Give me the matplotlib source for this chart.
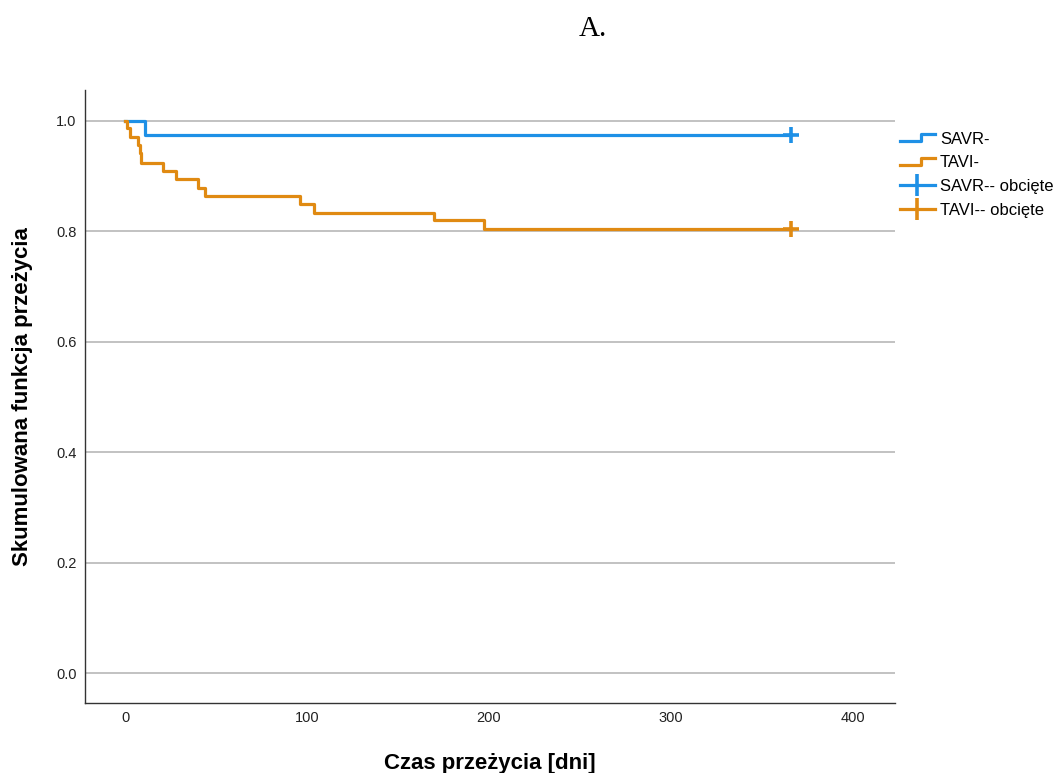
import matplotlib
matplotlib.use('Agg')
import matplotlib.pyplot as plt
from matplotlib.lines import Line2D
from matplotlib.legend_handler import HandlerLine2D

# Kaplan-Meier survival estimates
savr_days = [0, 11, 366]
savr_surv = [1.0, 0.975, 0.975]

tavi_days = [0, 1, 3, 7, 8, 9, 21, 28, 40, 44, 96, 104, 170, 197, 366]
tavi_surv = [1.0, 0.987, 0.971, 0.957, 0.942, 0.924, 0.909, 0.895, 0.879,
             0.864, 0.850, 0.834, 0.820, 0.804, 0.804]

savr_cens_day = [366]
savr_cens_surv = [0.975]
tavi_cens_day = [366]
tavi_cens_surv = [0.804]

xticks = [0, 100, 200, 300, 400]
yticks = [0.0, 0.2, 0.4, 0.6, 0.8, 1.0]
legend_labels = ['SAVR-', 'TAVI-', 'SAVR-- obcięte', 'TAVI-- obcięte']

blue = '#1E90E6'
orange = '#E08A12'


class StepHandler(HandlerLine2D):
    # draws the little step icon used by SPSS in the legend
    def create_artists(self, legend, orig_handle, xdescent, ydescent,
                       width, height, fontsize, trans):
        w = width
        h = height
        xs = [0, w * 0.6, w * 0.6, w]
        ys = [h * 0.2, h * 0.2, h * 0.8, h * 0.8]
        ln = Line2D([x - xdescent for x in xs], [y - ydescent for y in ys],
                    color=orig_handle.get_color(),
                    linewidth=orig_handle.get_linewidth())
        ln.set_transform(trans)
        return [ln]


plt.rcParams['font.family'] = ['Liberation Sans', 'DejaVu Sans']

fig = plt.figure(figsize=(10.57, 7.73), dpi=100)
ax = fig.add_axes([0.0804, 0.0906, 0.7663, 0.793])

ax.step(savr_days, savr_surv, where='post', color=blue, linewidth=2.3, zorder=3)
ax.step(tavi_days, tavi_surv, where='post', color=orange, linewidth=2.3, zorder=3)
ax.plot(savr_cens_day, savr_cens_surv, linestyle='none', marker='+',
        markersize=11, markeredgewidth=2.6, color=blue, zorder=4)
ax.plot(tavi_cens_day, tavi_cens_surv, linestyle='none', marker='+',
        markersize=11, markeredgewidth=2.6, color=orange, zorder=4)

ax.set_xlim(-22, 423)
ax.set_ylim(-0.054, 1.056)
ax.set_xticks(xticks)
ax.set_yticks(yticks)
ax.set_yticklabels([f'{v:.1f}' for v in yticks])
ax.tick_params(axis='both', length=0, labelsize=10.5, colors='#222222')
ax.tick_params(axis='x', pad=6)
ax.tick_params(axis='y', pad=6)
ax.grid(axis='y', color='#b8b8b8', linewidth=1.2)
ax.set_axisbelow(True)
for s in ['top', 'right']:
    ax.spines[s].set_visible(False)
for s in ['left', 'bottom']:
    ax.spines[s].set_color('#333333')
    ax.spines[s].set_linewidth(1.0)

ax.set_xlabel('Czas przeżycia [dni]', fontsize=16, fontweight='bold', labelpad=20)
ax.set_ylabel('Skumulowana funkcja przeżycia', fontsize=16, fontweight='bold', labelpad=17)

fig.text(0.561, 0.962, 'A.', family='Liberation Serif', fontsize=21,
         ha='center', va='center')

h_savr = Line2D([], [], color=blue, linewidth=2.3)
h_tavi = Line2D([], [], color=orange, linewidth=2.3)
h_savr_c = Line2D([], [], color=blue, linewidth=2.3, marker='|',
                  markersize=16, markeredgewidth=2.6)
h_tavi_c = Line2D([], [], color=orange, linewidth=2.3, marker='|',
                  markersize=16, markeredgewidth=2.6)
ax.legend([h_savr, h_tavi, h_savr_c, h_tavi_c], legend_labels,
          handler_map={h_savr: StepHandler(), h_tavi: StepHandler()},
          loc='upper left', bbox_to_anchor=(1.0, 0.94), frameon=False,
          fontsize=12, handlelength=2.1, handletextpad=0.3,
          labelspacing=0.52, borderaxespad=0.2, borderpad=0.1)

fig.savefig('out.png', dpi=100)
